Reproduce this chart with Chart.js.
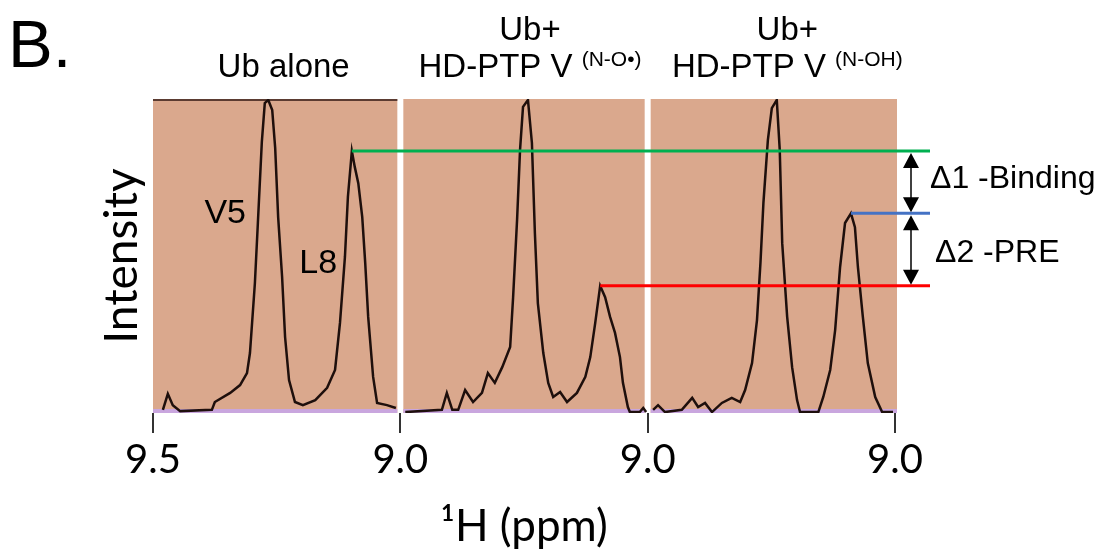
<!DOCTYPE html>
<html>
<head>
<meta charset="utf-8">
<script src="https://cdn.jsdelivr.net/npm/chart.js@4.4.1/dist/chart.umd.min.js"></script>
<style>
  html, body { margin: 0; padding: 0; background: #fff; }
  canvas { display: block; }
</style>
</head>
<body>
<canvas id="nmr" width="1108" height="559"></canvas>
<script>
// 1H slices, each panel runs 9.5 -> 9.0 ppm
const tickLabels = ['9.5', '9.0', '9.0', '9.0'];
const panelTitles = [['Ub alone'], ['Ub+', 'HD-PTP V'], ['Ub+', 'HD-PTP V']];
const panelSups = ['', '(N-O\u2022)', '(N-OH)'];

// Ub alone
const ppmAlone = [9.480, 9.470, 9.460, 9.445, 9.381, 9.375, 9.344, 9.324, 9.310, 9.304, 9.294, 9.288, 9.280, 9.274, 9.267, 9.259, 9.253, 9.247, 9.239, 9.233, 9.225, 9.213, 9.197, 9.172, 9.148, 9.132, 9.122, 9.112, 9.106, 9.098, 9.092, 9.085, 9.077, 9.071, 9.065, 9.055, 9.047, 9.027, 9.009];
const intAlone = [1.0, 6.1, 2.5, 0.6, 1.0, 3.5, 6.4, 8.9, 12.7, 19.1, 41.4, 60.5, 86.3, 98.7, 99.7, 96.5, 84.4, 62.4, 43.3, 24.2, 10.5, 3.5, 2.5, 4.1, 8.0, 13.7, 28.7, 49.7, 68.8, 83.4, 78.3, 73.2, 62.4, 47.8, 30.6, 11.5, 3.2, 2.5, 1.6];

// Ub + HD-PTP V (N-O•)
const ppmNO = [9.490, 9.416, 9.406, 9.395, 9.383, 9.369, 9.353, 9.335, 9.323, 9.309, 9.294, 9.278, 9.272, 9.264, 9.258, 9.252, 9.242, 9.234, 9.228, 9.222, 9.211, 9.201, 9.191, 9.177, 9.163, 9.143, 9.126, 9.116, 9.106, 9.096, 9.086, 9.076, 9.066, 9.056, 9.050, 9.040, 9.036, 9.016, 9.009, 9.003];
const intNO = [0.3, 1.0, 6.4, 1.0, 1.0, 7.3, 3.5, 6.4, 12.7, 9.6, 14.6, 21.0, 36.9, 61.5, 83.8, 97.5, 99.7, 86.0, 57.3, 35.0, 19.1, 9.6, 5.1, 6.7, 3.5, 6.4, 11.5, 17.8, 28.7, 40.5, 36.9, 30.6, 25.5, 17.8, 9.6, 1.9, 0.3, 0.3, 1.6, 0.3];

// Ub + HD-PTP V (N-OH)
const ppmNOH = [9.489, 9.479, 9.465, 9.431, 9.410, 9.398, 9.384, 9.370, 9.350, 9.330, 9.313, 9.303, 9.289, 9.279, 9.272, 9.266, 9.257, 9.249, 9.239, 9.233, 9.228, 9.218, 9.208, 9.198, 9.192, 9.155, 9.145, 9.131, 9.121, 9.111, 9.101, 9.089, 9.081, 9.075, 9.065, 9.055, 9.040, 9.026, 9.004];
const intNOH = [1.0, 2.5, 0.3, 1.0, 4.8, 1.9, 3.2, 0.3, 3.2, 4.8, 3.5, 7.3, 15.9, 29.6, 47.8, 66.9, 86.9, 97.1, 99.7, 83.8, 54.1, 30.6, 14.6, 4.1, 0.3, 0.3, 5.1, 13.7, 26.4, 46.5, 60.5, 63.6, 59.2, 46.5, 30.6, 15.9, 5.1, 0.3, 0.3];

const SPAN = 0.5;      // ppm width of one panel
const PPM_LEFT = 9.5;
const L8_EDGE = 9.15;  // L8 peak sits upfield of this

const series = [[ppmAlone, intAlone], [ppmNO, intNO], [ppmNOH, intNOH]];

// place each panel side by side on one continuous axis
function toPoints(p, ppm, vals) {
  return ppm.map((v, i) => ({ x: p * SPAN + (PPM_LEFT - v), y: vals[i] }));
}

// L8 peak top of a panel
function l8Peak(p) {
  const [ppm, vals] = series[p];
  let best = ppm.findIndex(v => v < L8_EDGE);
  ppm.forEach((v, i) => { if (v < L8_EDGE && vals[i] > vals[best]) best = i; });
  return { x: p * SPAN + (PPM_LEFT - ppm[best]), y: vals[best] };
}

const SANS = '"Liberation Sans", Arial, sans-serif';
const HUM = 'Lato, "Open Sans", sans-serif';

function arrowHead(ctx, x, y, dir) {
  ctx.beginPath();
  ctx.moveTo(x, y);
  ctx.lineTo(x - 8, y - dir * 15);
  ctx.lineTo(x + 8, y - dir * 15);
  ctx.closePath();
  ctx.fill();
}

const decor = {
  id: 'decor',
  beforeDatasetsDraw(chart) {
    const { ctx, chartArea: a, scales: { x } } = chart;
    ctx.save();
    for (let p = 0; p < 3; p++) {
      let x0 = x.getPixelForValue(p * SPAN);
      let x1 = x.getPixelForValue((p + 1) * SPAN);
      if (p > 0) x0 += 3;
      x1 += p < 2 ? -3 : 2;
      ctx.fillStyle = '#daa88d';
      ctx.fillRect(x0, a.top, x1 - x0, a.bottom - a.top);
      ctx.fillStyle = '#c9a6de';
      ctx.fillRect(x0, a.bottom - 4, x1 - x0, 4);
      if (p === 0) {
        ctx.fillStyle = '#5b3b31';
        ctx.fillRect(x0, a.top, x1 - x0, 2);
      }
    }
    ctx.restore();
  },
  afterDatasetsDraw(chart) {
    const { ctx, chartArea: a, scales: { x, y } } = chart;
    const xEnd = a.right + 35;
    const xArrow = a.right + 16;
    const colors = ['#00b050', '#ff0000', '#4472c4'];
    const levels = [];
    ctx.save();
    ctx.lineWidth = 3;
    for (let p = 0; p < 3; p++) {
      const pk = l8Peak(p);
      const py = y.getPixelForValue(pk.y);
      levels.push(py);
      ctx.strokeStyle = colors[p];
      ctx.beginPath();
      ctx.moveTo(x.getPixelForValue(pk.x), py);
      ctx.lineTo(xEnd, py);
      ctx.stroke();
    }
    // double arrows: binding (green -> blue), PRE (blue -> red)
    const gaps = [[levels[0], levels[2]], [levels[2], levels[1]]];
    ctx.fillStyle = '#000';
    ctx.strokeStyle = '#000';
    ctx.lineWidth = 1.5;
    gaps.forEach(([t, b]) => {
      ctx.beginPath();
      ctx.moveTo(xArrow, t + 10);
      ctx.lineTo(xArrow, b - 10);
      ctx.stroke();
      arrowHead(ctx, xArrow, t + 2, -1);
      arrowHead(ctx, xArrow, b - 1, 1);
    });
    ctx.font = '32px ' + SANS;
    ctx.textAlign = 'left';
    ctx.textBaseline = 'alphabetic';
    ctx.fillText('\u03941 -Binding', xEnd, 188);
    ctx.fillText('\u03942 -PRE', xEnd + 5, 262);

    // peak assignments in the first panel
    ctx.font = '34px ' + SANS;
    ctx.textAlign = 'center';
    ctx.fillText('V5', x.getPixelForValue(PPM_LEFT - 9.354), y.getPixelForValue(60.5));
    ctx.fillText('L8', x.getPixelForValue(PPM_LEFT - 9.166), y.getPixelForValue(44.6));
    ctx.restore();
  },
  afterDraw(chart) {
    const { ctx, scales: { x } } = chart;
    const shift = [7, 6, 16];
    ctx.save();
    ctx.fillStyle = '#000';
    ctx.textBaseline = 'alphabetic';
    ctx.font = '67px ' + SANS;
    ctx.textAlign = 'left';
    ctx.fillText('B.', 8, 67);

    for (let p = 0; p < 3; p++) {
      const cx = x.getPixelForValue((p + 0.5) * SPAN) + shift[p];
      const lines = panelTitles[p];
      ctx.font = '33px ' + SANS;
      ctx.textAlign = 'center';
      if (lines.length === 1) {
        ctx.fillText(lines[0], cx, 77);
        continue;
      }
      ctx.fillText(lines[0], cx, 40);
      const mainW = ctx.measureText(lines[1] + ' ').width;
      ctx.font = '21px ' + SANS;
      const supW = ctx.measureText(panelSups[p]).width;
      const left = cx - (mainW + supW) / 2;
      ctx.textAlign = 'left';
      ctx.fillText(panelSups[p], left + mainW, 66);
      ctx.font = '33px ' + SANS;
      ctx.fillText(lines[1], left, 77);
    }
    ctx.restore();
  }
};

const ctx = document.getElementById('nmr');

new Chart(ctx, {
  type: 'line',
  data: {
    datasets: series.map(([ppm, vals], p) => ({
      label: panelTitles[p].join(' ') + ' ' + panelSups[p],
      data: toPoints(p, ppm, vals),
      borderColor: '#1e0f0c',
      borderWidth: 2.5,
      pointRadius: 0,
      tension: 0,
      fill: false
    }))
  },
  options: {
    responsive: false,
    animation: false,
    devicePixelRatio: 1,
    layout: { padding: { left: 95, right: 213, top: 99, bottom: 0 } },
    plugins: { legend: { display: false }, tooltip: { enabled: false } },
    scales: {
      x: {
        type: 'linear',
        min: 0,
        max: 3 * SPAN,
        border: { display: false },
        grid: { drawOnChartArea: false, tickLength: 20, color: '#333', lineWidth: 2 },
        ticks: {
          stepSize: SPAN,
          autoSkip: false,
          maxRotation: 0,
          color: '#000',
          padding: 3,
          font: { family: HUM, size: 40 },
          callback: (v, i) => tickLabels[i]
        },
        title: {
          display: true,
          text: '\u00b9H (ppm)',
          color: '#000',
          font: { family: HUM, size: 44 },
          padding: { top: 0, bottom: 6 }
        },
        afterFit: s => { s.height = 146; }
      },
      y: {
        min: 0,
        max: 100,
        border: { display: false },
        grid: { display: false },
        ticks: { display: false },
        title: {
          display: true,
          text: 'Intensity',
          color: '#000',
          font: { family: HUM, size: 46 },
          padding: 0
        },
        afterFit: s => { s.width = 58; }
      }
    }
  },
  plugins: [decor]
});
</script>
</body>
</html>
